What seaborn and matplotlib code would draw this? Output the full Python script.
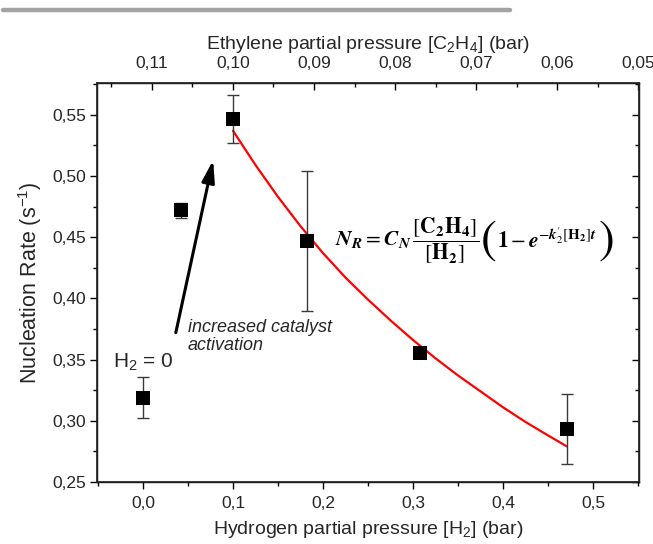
import matplotlib
matplotlib.use("Agg")
import matplotlib.pyplot as plt
import matplotlib.ticker as mticker
from matplotlib.lines import Line2D
from matplotlib.offsetbox import TextArea, HPacker, AnnotationBbox
import seaborn as sns
import pandas as pd

# Measured nucleation rates vs. hydrogen partial pressure
h2_pressure = [0.0, 0.042, 0.100, 0.182, 0.308, 0.471]
nucleation_rate = [0.319, 0.472, 0.547, 0.447, 0.355, 0.293]
err_low = [0.017, 0.006, 0.020, 0.057, 0.003, 0.028]
err_high = [0.017, 0.006, 0.019, 0.057, 0.003, 0.029]

# Kinetic model fit
fit_h2 = [0.100, 0.125, 0.150, 0.175, 0.200, 0.225, 0.250, 0.275, 0.300,
          0.325, 0.350, 0.375, 0.400, 0.425, 0.450, 0.471]
fit_rate = [0.537, 0.509, 0.483, 0.459, 0.437, 0.417, 0.399, 0.382, 0.366,
            0.351, 0.337, 0.324, 0.311, 0.299, 0.288, 0.279]

# Top-axis tick values (ethylene partial pressure, bar)
ethylene_ticks = [0.11, 0.10, 0.09, 0.08, 0.07, 0.06, 0.05]

points = pd.DataFrame({"h2": h2_pressure, "rate": nucleation_rate})
fit = pd.DataFrame({"h2": fit_h2, "rate": fit_rate})

sns.set_theme(style="ticks")
plt.rcParams["font.family"] = ["Liberation Sans", "DejaVu Sans"]
plt.rcParams["mathtext.fontset"] = "custom"
plt.rcParams["mathtext.rm"] = "Liberation Sans"
plt.rcParams["mathtext.it"] = "Liberation Sans:italic"
plt.rcParams["mathtext.bf"] = "Liberation Sans:bold"

fig = plt.figure(figsize=(6.53, 5.44), dpi=100)
ax = fig.add_axes([0.1486, 0.114, 0.8300, 0.7334])

# Decorative rule across the top of the page
fig.add_artist(Line2D([0.005, 0.781], [0.981, 0.981], color="#a3a3a3", lw=3.2,
                      transform=fig.transFigure))

sns.lineplot(data=fit, x="h2", y="rate", ax=ax, color="#ff0000", lw=1.6,
             sort=False, zorder=2)
ax.errorbar(h2_pressure, nucleation_rate, yerr=[err_low, err_high], fmt="none",
            ecolor="#3a3a3a", elinewidth=1.0, capsize=4.5, capthick=1.0, zorder=3)
sns.scatterplot(data=points, x="h2", y="rate", ax=ax, marker="s", s=95,
                color="black", edgecolor="black", linewidth=0, zorder=4)

x_range = (-0.051, 0.551)
ax.set_xlim(*x_range)
ax.set_ylim(0.25, 0.576)

for side in ["left", "right", "top", "bottom"]:
    ax.spines[side].set_visible(True)
    ax.spines[side].set_linewidth(1.0)
    ax.spines[side].set_color("black")

ax.xaxis.set_major_locator(mticker.MultipleLocator(0.1))
ax.xaxis.set_minor_locator(mticker.MultipleLocator(0.05))
ax.yaxis.set_major_locator(mticker.MultipleLocator(0.05))
ax.yaxis.set_minor_locator(mticker.MultipleLocator(0.025))
ax.xaxis.set_major_formatter(mticker.FuncFormatter(lambda v, p: f"{v:.1f}".replace(".", ",")))
ax.yaxis.set_major_formatter(mticker.FuncFormatter(lambda v, p: f"{v:.2f}".replace(".", ",")))

ax.tick_params(axis="x", which="both", direction="out", top=False, bottom=True,
               labelsize=12.5, color="black", width=1.0, pad=5)
ax.tick_params(axis="y", which="both", direction="out", left=True, right=False,
               labelsize=12.5, color="black", width=1.0, pad=3)
ax.tick_params(which="major", length=5)
ax.tick_params(which="minor", length=3)

# Right-hand inward ticks without labels
ry = ax.secondary_yaxis("right")
ry.yaxis.set_major_locator(mticker.MultipleLocator(0.05))
ry.yaxis.set_minor_locator(mticker.MultipleLocator(0.025))
ry.tick_params(which="both", direction="in", right=True, left=False,
               labelright=False, labelleft=False, width=1.0, color="black")
ry.tick_params(which="major", length=5)
ry.tick_params(which="minor", length=3)
ry.spines["right"].set_visible(False)


def h2_to_eth(h):
    return (1.0 - h) / 9.0


# Ethylene partial pressure on the top axis (linked to the hydrogen scale)
tx = ax.twiny()
tx.set_xlim(h2_to_eth(x_range[0]), h2_to_eth(x_range[1]))
tx.xaxis.set_major_locator(mticker.FixedLocator(ethylene_ticks))
tx.xaxis.set_minor_locator(mticker.MultipleLocator(0.005))
tx.xaxis.set_major_formatter(mticker.FuncFormatter(lambda v, p: f"{v:.2f}".replace(".", ",")))
tx.xaxis.set_ticks_position("top")
tx.tick_params(axis="x", which="both", direction="in", top=True, bottom=False,
               labeltop=True, labelbottom=False, labelsize=12.5, width=1.0,
               pad=9, color="black")
tx.tick_params(axis="x", which="major", length=5)
tx.tick_params(axis="x", which="minor", length=3)
tx.tick_params(axis="y", left=False, right=False, labelleft=False, labelright=False)
tx.set_xlabel(r"Ethylene partial pressure [C$_2$H$_4$] (bar)", fontsize=14, labelpad=5)
for lbl in tx.get_xticklabels():
    lbl.set_clip_on(False)

ax.set_xlabel(r"Hydrogen partial pressure [H$_2$] (bar)", fontsize=14, labelpad=6)
ax.set_ylabel(r"Nucleation Rate (s$^{-1}$)", fontsize=15.5, labelpad=6)

# Annotations
ax.annotate("", xy=(0.078, 0.513), xytext=(0.0365, 0.372),
            arrowprops=dict(arrowstyle="-|>,head_length=1.1,head_width=0.32",
                            color="black", lw=2.2, shrinkA=0, shrinkB=0))
ax.text(0.050, 0.383, "increased catalyst\nactivation", fontsize=13, style="italic",
        ha="left", va="top", linespacing=1.05)
ax.text(0.0, 0.348, r"H$_2$ = 0", fontsize=15, ha="center", va="center")

# Rate law next to the fitted curve, with tall brackets around the exponential term
math_props = dict(fontsize=15.5, math_fontfamily="stix", color="black")
paren_props = dict(fontsize=34, family="STIXGeneral", color="black")
eq_left = TextArea(
    r"$\mathbfit{N}_{\mathbfit{R}} = \mathbfit{C}_{\mathbfit{N}}\,"
    r"\dfrac{\left[\mathbf{C_2H_4}\right]}{\left[\mathbf{H_2}\right]}$",
    textprops=math_props)
eq_open = TextArea("(", textprops=paren_props)
eq_mid = TextArea(
    r"$\mathbf{1}-\mathbfit{e}^{-\mathbfit{k}_{2}^{\prime}[\mathbf{H_2}]\mathbfit{t}}$",
    textprops=math_props)
eq_close = TextArea(")", textprops=paren_props)
eq_box = HPacker(children=[eq_left, eq_open, eq_mid, eq_close], align="center",
                 pad=0, sep=1)
ax.add_artist(AnnotationBbox(eq_box, (0.213, 0.447), xycoords="data",
                             box_alignment=(0, 0.5), frameon=False, pad=0))

fig.savefig("out.png", dpi=100)
